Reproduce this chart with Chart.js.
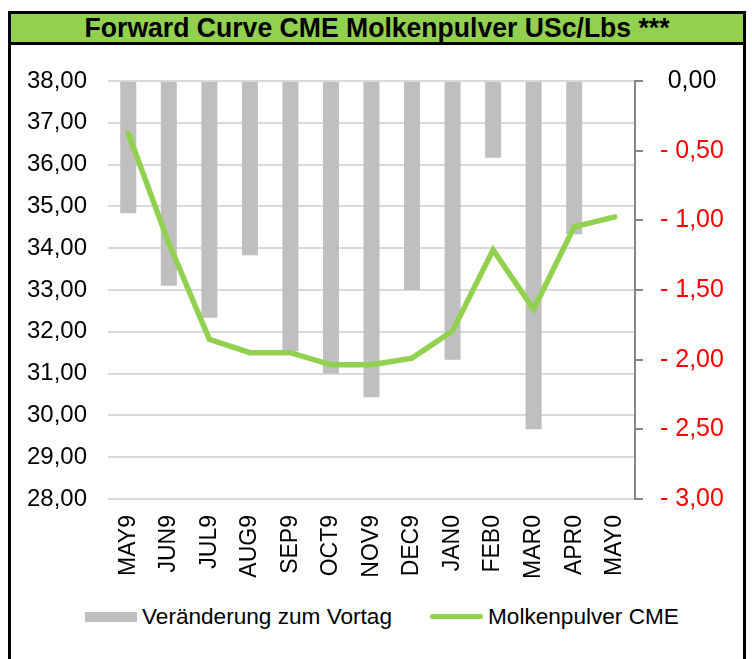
<!DOCTYPE html>
<html>
<head>
<meta charset="utf-8">
<script src="https://cdn.jsdelivr.net/npm/chart.js@4.4.1/dist/chart.umd.min.js"></script>
<style>
  html, body { margin: 0; padding: 0; background: #fff; }
  body { width: 752px; height: 659px; position: relative; overflow: hidden; font-family: "Liberation Sans", Arial, sans-serif; }
  #frame { position: absolute; left: 8px; top: 11px; width: 732px; height: 700px; border: 3px solid #000; box-sizing: content-box; }
  #title { position: absolute; left: 8px; top: 11px; width: 732px; height: 28px; border: 3px solid #000; background: #92D050; text-align: center; line-height: 29px; font-weight: bold; font-size: 27px; color: #000; white-space: nowrap; overflow: hidden; }
  #title span { display: inline-block; transform-origin: center center; }
  #wrap { position: absolute; left: 0; top: 0; width: 752px; height: 600px; }
  .leg { position: absolute; font-size: 22.6px; color: #000; line-height: 22px; white-space: nowrap; }
  #legBar { position: absolute; left: 85px; top: 612px; width: 52px; height: 10px; background: #BFBFBF; }
  #legLine { position: absolute; left: 430px; top: 614px; width: 53px; height: 5px; background: #92D050; border-radius: 3px; }
</style>
</head>
<body>
<div id="frame"></div>
<div id="title"><span id="titleText">Forward Curve CME Molkenpulver USc/Lbs ***</span></div>
<div id="wrap"><canvas id="c" width="752" height="600"></canvas></div>
<div id="legBar"></div>
<div class="leg" id="legT1" style="left:142px; top:606px;">Veränderung zum Vortag</div>
<div id="legLine"></div>
<div class="leg" id="legT2" style="left:488px; top:606px;">Molkenpulver CME</div>
<script>
const categories = ["MAY9","JUN9","JUL9","AUG9","SEP9","OCT9","NOV9","DEC9","JAN0","FEB0","MAR0","APR0","MAY0"];
const changeVsPrevDay = [-0.95, -1.47, -1.70, -1.25, -1.94, -2.10, -2.27, -1.50, -2.00, -0.55, -2.50, -1.10, 0];
const wheyPowderCME = [36.75, 34.12, 31.82, 31.50, 31.50, 31.21, 31.21, 31.37, 32.02, 33.96, 32.54, 34.51, 34.75];
const seriesNames = ["Veränderung zum Vortag", "Molkenpulver CME"];

// fit title width
(function(){
  const t = document.getElementById('titleText');
  const w = t.getBoundingClientRect().width;
  const target = 585;
  t.style.transform = 'scaleX(' + (target / w) + ')';
})();

const FONT = '"Liberation Sans", Arial, sans-serif';
const fmt = v => v.toFixed(2).replace('.', ',');

new Chart(document.getElementById('c'), {
  data: {
    labels: categories,
    datasets: [
      {
        type: 'line',
        label: seriesNames[1],
        data: wheyPowderCME,
        yAxisID: 'y',
        borderColor: '#92D050',
        backgroundColor: '#92D050',
        borderWidth: 5.5,
        pointRadius: 0,
        borderCapStyle: 'round',
        tension: 0,
        order: 0
      },
      {
        type: 'bar',
        label: seriesNames[0],
        data: changeVsPrevDay,
        yAxisID: 'y1',
        backgroundColor: '#BFBFBF',
        borderWidth: 0,
        barPercentage: 0.8,
        categoryPercentage: 0.494,
        order: 1
      }
    ]
  },
  options: {
    responsive: false,
    animation: false,
    devicePixelRatio: 1,
    layout: { padding: { top: 81, left: 0, right: 0, bottom: 0 } },
    plugins: { legend: { display: false }, tooltip: { enabled: false }, title: { display: false } },
    scales: {
      x: {
        position: 'bottom',
        grid: { display: false, drawTicks: false },
        border: { display: false },
        ticks: {
          autoSkip: false,
          minRotation: 90,
          maxRotation: 90,
          padding: 16,
          color: '#000',
          font: { family: FONT, size: 23 }
        },
        afterFit: s => { s.height = 101; }
      },
      y: {
        position: 'left',
        min: 28, max: 38,
        grid: { color: '#D9D9D9', lineWidth: 2, drawTicks: false },
        border: { display: false },
        ticks: {
          stepSize: 1,
          padding: 21,
          color: '#000',
          font: { family: FONT, size: 24 },
          callback: v => fmt(v)
        },
        afterFit: s => { s.width = 108; }
      },
      y1: {
        position: 'right',
        min: -3, max: 0,
        grid: { drawOnChartArea: false, color: '#868686', lineWidth: 2, tickLength: 8, drawTicks: true },
        border: { display: true, color: '#868686', width: 2 },
        ticks: {
          stepSize: 0.5,
          padding: 17,
          crossAlign: 'center',
          font: { family: FONT, size: 25 },
          color: ctx => (ctx.tick && ctx.tick.value === 0) ? '#000' : '#FF0000',
          callback: v => v === 0 ? '0,00' : '- ' + fmt(Math.abs(v))
        },
        afterFit: s => { s.width = 117; }
      }
    }
  }
});
</script>
</body>
</html>
